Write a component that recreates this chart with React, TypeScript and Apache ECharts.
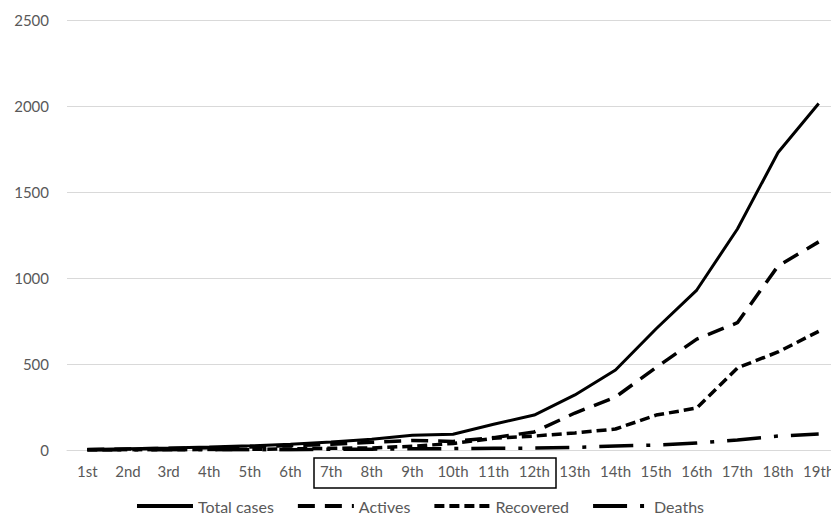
import React, { useEffect, useRef } from "react";
import * as echarts from "echarts";

const categories = ["1st","2nd","3rd","4th","5th","6th","7th","8th","9th","10th","11th","12th","13th","14th","15th","16th","17th","18th","19th"];
const totalCases = [3, 7, 11, 17, 24, 33, 47, 62, 86, 92, 150, 203, 320, 465, 705, 930, 1285, 1730, 2015];
const actives = [3, 6, 9, 13, 18, 25, 33, 45, 55, 50, 72, 105, 215, 308, 480, 645, 740, 1070, 1210];
const recovered = [0, 1, 1, 3, 4, 6, 10, 12, 22, 38, 68, 81, 99, 122, 203, 244, 477, 570, 690];
const deaths = [0, 0, 1, 1, 2, 2, 4, 5, 7, 8, 10, 11, 15, 23, 29, 40, 58, 81, 93];
const yTicks = { min: 0, max: 2500, interval: 500 };

const FONT = "Lato, 'Open Sans', sans-serif";

export default function App() {
  const ref = useRef<HTMLDivElement>(null);
  useEffect(() => {
    if (!ref.current) return;
    const chart = echarts.init(ref.current, undefined, { renderer: "svg" });
    const mk = (name: string, data: number[], type: any, width: number) => ({
      name,
      type: "line",
      data,
      showSymbol: false,
      symbol: "none",
      lineStyle: { color: "#000", width, type, cap: "butt" },
      itemStyle: { color: "#000" },
    });
    chart.setOption({
      animation: false,
      textStyle: { fontFamily: FONT },
      grid: { left: 67, right: 0, top: 20, bottom: 75 },
      xAxis: {
        type: "category",
        data: categories,
        boundaryGap: true,
        axisLine: { lineStyle: { color: "#d9d9d9", width: 1 } },
        axisTick: { show: false },
        axisLabel: { color: "#595959", fontSize: 15, margin: 13, fontFamily: FONT, interval: 0 },
      },
      yAxis: {
        type: "value",
        min: yTicks.min,
        max: yTicks.max,
        interval: yTicks.interval,
        axisLine: { show: false },
        axisTick: { show: false },
        splitLine: { lineStyle: { color: "#d9d9d9", width: 1 } },
        axisLabel: { color: "#595959", fontSize: 15, margin: 18, fontFamily: FONT, formatter: (v: number) => String(v) },
      },
      legend: {
        top: 493,
        left: "center",
        itemWidth: 56,
        itemHeight: 14,
        itemGap: 22,
        itemStyle: { color: "rgba(0,0,0,0)", borderWidth: 0, opacity: 0 },
        lineStyle: { width: 4 },
        textStyle: { color: "#595959", fontSize: 16, fontFamily: FONT },
        data: ["Total cases", "Actives", "Recovered", "Deaths"],
      },
      graphic: [
        {
          type: "rect",
          shape: { x: 314, y: 458, width: 242, height: 30 },
          style: { fill: "none", stroke: "#000", lineWidth: 1.5 },
        },
      ],
      series: [
        mk("Total cases", totalCases, "solid", 3),
        mk("Actives", actives, [17, 10], 3.5),
        mk("Recovered", recovered, [10, 5], 3.5),
        mk("Deaths", deaths, [34, 13, 4, 13], 3.5),
      ],
    });
    return () => chart.dispose();
  }, []);
  return <div ref={ref} style={{ width: 839, height: 525, margin: -8 }} />;
}
